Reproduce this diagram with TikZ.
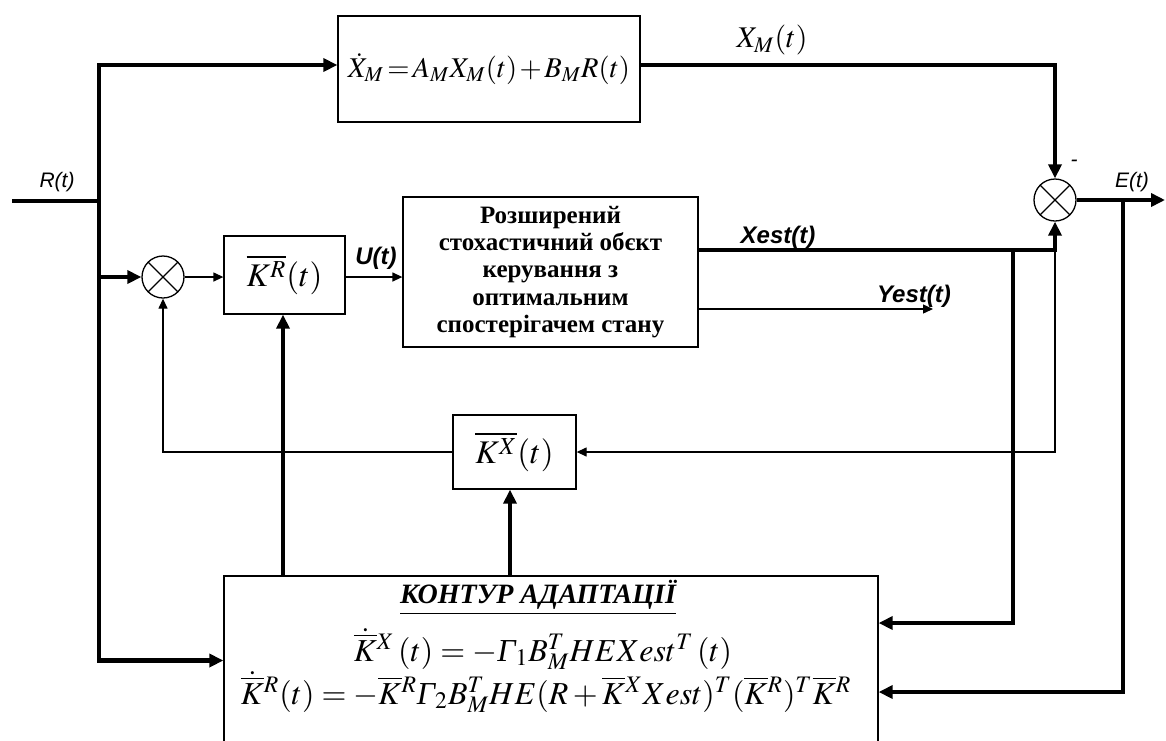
\documentclass[tikz,border=0pt]{standalone}
\usepackage{mathptmx}
\usepackage[no-math]{fontspec}
\setmainfont{Liberation Serif}
\setsansfont{Liberation Sans}
\usetikzlibrary{arrows.meta,calc}

% italic capital gamma taken from the text font
\newcommand\Gam{\mbox{\itshape Γ}}

\begin{document}
\begin{tikzpicture}[x=0.5pt,y=-0.5pt,
  thk/.style={line width=2.2pt},
  thn/.style={line width=0.65pt},
  bigtip/.style={-{Triangle[length=7pt,width=6.5pt]}},
  smalltip/.style={-{Triangle[length=5pt,width=4.5pt]}},
  blockbox/.style={draw, line width=0.65pt, inner sep=0pt},
  summer/.style={draw, circle, line width=0.65pt, minimum size=21pt, inner sep=0pt,
    path picture={\draw[line width=0.65pt]
      (path picture bounding box.north west) -- (path picture bounding box.south east)
      (path picture bounding box.north east) -- (path picture bounding box.south west);}},
  siglabel/.style={font=\sffamily\itshape\fontsize{10.5}{12}\selectfont},
  boldsig/.style={font=\sffamily\bfseries\itshape\fontsize{12}{14}\selectfont},
]
\useasboundingbox (0,0) rectangle (1166,740);
\clip (0,0) rectangle (1166,740);

% blocks
\node[blockbox, minimum width=151pt, minimum height=53pt,
      font=\fontsize{14.3}{17}\selectfont] (model) at (489,69)
  {$\thickmuskip=2mu \medmuskip=1.5mu \dot X_M = A_M X_M(t) + B_M R(t)$};
\node[blockbox, minimum width=60.5pt, minimum height=39pt,
      font=\fontsize{16.5}{19}\selectfont] (KR) at (284.5,275) {$\overline{K^R}(t)$};
\node[blockbox, minimum width=147.5pt, minimum height=75pt, align=center,
      font=\bfseries\fontsize{12.5}{13.6}\selectfont] (obj) at (550.5,272)
  {Розширений\\стохастичний обєкт\\керування з\\оптимальним\\спостерігачем стану};
\node[blockbox, minimum width=61.5pt, minimum height=37pt,
      font=\fontsize{16.5}{19}\selectfont] (KX) at (514.5,452) {$\overline{K^X}(t)$};
\node[blockbox, minimum width=327pt, minimum height=84.5pt] (adapt) at (551,660.5) {};
\node[font=\bfseries\itshape\fontsize{14}{16}\selectfont] (title) at (538,598)
  {\underline{КОНТУР АДАПТАЦІЇ}};
\node[font=\fontsize{16}{18}\selectfont] (eqx) at (543,649)
  {$\dot{\overline{K}}{}^X\,(t) = -\Gam_1 B_M^T HEXest^T\,(t)$};
\node[font=\fontsize{16}{18}\selectfont] (eqr) at (546,692)
  {$\dot{\overline{K}}{}^R(t) = -\overline{K}{}^R \Gam_2 B_M^T HE(R+\overline{K}{}^X Xest)^T(\overline{K}{}^R)^T\overline{K}{}^R$};

% summing junctions
\node[summer] (sumA) at (163,277) {};
\node[summer] (sumB) at (1055,200) {};

% labels
\node[siglabel] (rlab) at (57,182) {R(t)};
\node[siglabel] (elab) at (1132,182) {E(t)};
\node[siglabel] (minus) at (1074,163) {-};
\node[font=\fontsize{15}{18}\selectfont] (xmlab) at (772,40) {$X_M(t)$};
\node[boldsig] (ulab) at (376,258) {U(t)};
\node[boldsig] (xlab) at (778,237) {Xest(t)};
\node[boldsig] (ylab) at (914,296) {Yest(t)};

% junction points
\coordinate (rin) at (12,201);
\coordinate (busJ) at (99,201);
\coordinate (busTop) at (99,65);
\coordinate (eout) at (1165,200);
\coordinate (ej) at (1123,200);
\coordinate (eb) at (1123,692);
\coordinate (xj) at (1055,250);
\coordinate (xb) at (1013,623);
\coordinate (yend) at (933,309);
\coordinate (krin) at (283,576);
\coordinate (kxin) at (510,576);

% reference input bus
\draw[thk] (rin) -- (busJ);
\draw[thk,bigtip] (busJ) -- (busTop) -- (busTop -| model.west);
\draw[thk,bigtip] (busJ) |- (adapt.west);
\draw[thk,bigtip] (busJ |- sumA.west) -- (sumA.west);

% model output and error
\draw[thk,bigtip] (busTop -| model.east) -| (sumB.north);
\draw[thk,bigtip] (sumB.east) -- (eout);
\draw[thk,bigtip] (ej) -- (eb) -- (eb -| adapt.east);

% estimated state
\draw[thk,bigtip] (obj.east |- xj) -| (sumB.south);
\draw[thk,bigtip] (xb |- xj) -- (xb) -- (xb -| adapt.east);
\draw[thn,smalltip] (xj) |- (KX.east);
\draw[thn,smalltip] (yend -| obj.east) -- (yend);

% control loop
\draw[thn,smalltip] (KX.west) -| (sumA.south);
\draw[thn,smalltip] (sumA.east) -- (sumA.east -| KR.west);
\draw[thn,smalltip] (KR.east |- sumA.east) -- (sumA.east -| obj.west);

% adaptation outputs
\draw[thk,bigtip] (krin) -- (krin |- KR.south);
\draw[thk,bigtip] (kxin) -- (kxin |- KX.south);
\end{tikzpicture}
\end{document}
